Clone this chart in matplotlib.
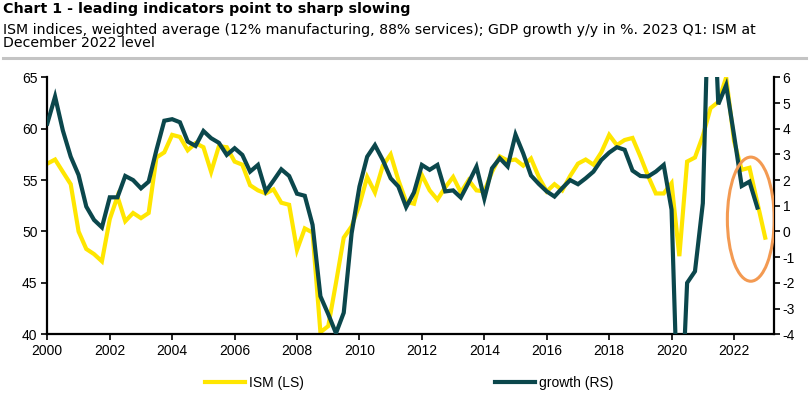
import numpy as np
import pandas as pd
import matplotlib
matplotlib.use('Agg')
import matplotlib.pyplot as plt
import matplotlib.dates as mdates
from matplotlib.patches import Ellipse
from matplotlib.lines import Line2D

# ISM gewogen gemiddelde (LS), kwartaal, 2000 Q1 - 2023 Q1
ism = [56.6, 57.0, 55.8, 54.6, 50.0, 48.3, 47.8, 47.1, 51.2, 53.4,
       51.0, 51.8, 51.3, 51.8, 57.2, 57.7, 59.4, 59.2, 57.9, 58.6,
       58.2, 55.8, 58.3, 58.2, 56.8, 56.5, 54.5, 54.0, 53.7, 54.1,
       52.8, 52.6, 48.2, 50.3, 49.9, 40.2, 40.8, 45.0, 49.4, 50.5,
       52.6, 55.3, 53.8, 56.4, 57.5, 55.0, 52.9, 52.7, 55.5, 54.0,
       53.1, 54.3, 55.3, 53.8, 55.0, 54.0, 53.9, 55.8, 57.3, 56.9,
       57.0, 56.4, 57.1, 55.3, 53.9, 54.6, 54.0, 55.4, 56.6, 57.0,
       56.5, 57.7, 59.4, 58.4, 58.9, 59.1, 57.3, 55.4, 53.7, 53.7,
       54.7, 47.6, 56.8, 57.2, 59.3, 62.0, 62.6, 65.0, 58.8, 56.0,
       56.2, 52.8, 49.4]

# GDP groei y/y in % (RS), 2000 Q1 - 2022 Q4
growth = [4.2, 5.25, 3.93, 2.91, 2.2, 0.97, 0.45, 0.16, 1.33, 1.33,
          2.16, 2.0, 1.68, 1.94, 3.17, 4.31, 4.37, 4.25, 3.5, 3.33,
          3.91, 3.63, 3.45, 2.98, 3.24, 2.98, 2.33, 2.59, 1.56, 1.98,
          2.42, 2.16, 1.47, 1.39, 0.26, -2.52, -3.22, -3.96, -3.16, -0.07,
          1.75, 2.91, 3.36, 2.78, 2.07, 1.75, 0.95, 1.52, 2.59, 2.40,
          2.59, 1.56, 1.6, 1.32, 1.9, 2.52, 1.28, 2.46, 2.85, 2.53,
          3.77, 3.04, 2.18, 1.85, 1.56, 1.36, 1.69, 2.0, 1.84, 2.07,
          2.33, 2.78, 3.07, 3.28, 3.18, 2.37, 2.16, 2.14, 2.33, 2.59,
          0.85, -9.0, -2.0, -1.55, 1.1, 12.0, 4.95, 5.69, 3.75, 1.77,
          1.94, 0.93]

ism_dates = pd.date_range('2000-01-01', periods=len(ism), freq='QS')
growth_dates = pd.date_range('2000-01-01', periods=len(growth), freq='QS')

YELLOW = '#FFE600'
TEAL = '#0B474C'
ORANGE = '#F39A52'

plt.rcParams['font.family'] = ['Liberation Sans', 'DejaVu Sans']
plt.rcParams['axes.unicode_minus'] = False

fig = plt.figure(figsize=(8.1, 3.95), dpi=100)
ax = fig.add_axes([0.0584, 0.1537, 0.8976, 0.6506])
ax2 = ax.twinx()

ax.plot(ism_dates, ism, color=YELLOW, lw=3.0, solid_joinstyle='miter', label='ISM (LS)')
ax2.plot(growth_dates, growth, color=TEAL, lw=3.0, solid_joinstyle='miter', label='growth (RS)')

# oranje ellips rond de laatste kwartalen
ell = Ellipse((mdates.date2num(pd.Timestamp('2022-07-16')), 0.48),
              width=548, height=4.83, fill=False, ec=ORANGE, lw=2.2, zorder=5)
ax2.add_patch(ell)

ax.set_xlim(pd.Timestamp('2000-01-01'), pd.Timestamp('2023-04-18'))
ax.set_ylim(40, 65)
ax2.set_ylim(-4, 6)
ax.set_yticks(range(40, 66, 5))
ax2.set_yticks(range(-4, 7, 1))
ax.xaxis.set_major_locator(mdates.YearLocator(2))
ax.xaxis.set_major_formatter(mdates.DateFormatter('%Y'))

for a in (ax, ax2):
    a.spines['top'].set_visible(False)
    for s in ('left', 'right', 'bottom'):
        a.spines[s].set_linewidth(1.6)
ax.spines['right'].set_visible(False)
ax2.spines['left'].set_visible(False)
ax2.spines['bottom'].set_visible(False)

ax.tick_params(axis='both', labelsize=10, width=1.2, length=4, pad=3)
ax2.tick_params(axis='y', labelsize=10, width=1.2, length=4, pad=2)

# titel en ondertitel
fig.text(0.004, 0.966, 'Chart 1 - leading indicators point to sharp slowing',
         fontsize=10.3, fontweight='bold', family='DejaVu Sans', va='baseline')
fig.text(0.004, 0.9147, 'ISM indices, weighted average (12% manufacturing, 88% services); '
         'GDP growth y/y in %. 2023 Q1: ISM at', fontsize=10.2, family='DejaVu Sans', va='baseline')
fig.text(0.004, 0.881, 'December 2022 level', fontsize=10.2, family='DejaVu Sans', va='baseline')
fig.add_artist(Line2D([0.004, 0.995], [0.853, 0.853], color='#C4C4C4', lw=2.2))

handles = [Line2D([], [], color=YELLOW, lw=3.0), Line2D([], [], color=TEAL, lw=3.0)]
fig.legend(handles, ['ISM (LS)', 'growth (RS)'], loc='center', bbox_to_anchor=(0.505, 0.03),
           ncol=2, frameon=False, fontsize=10, handlelength=2.9, handletextpad=0.25,
           columnspacing=13.8)

plt.savefig('out.png', dpi=100)
